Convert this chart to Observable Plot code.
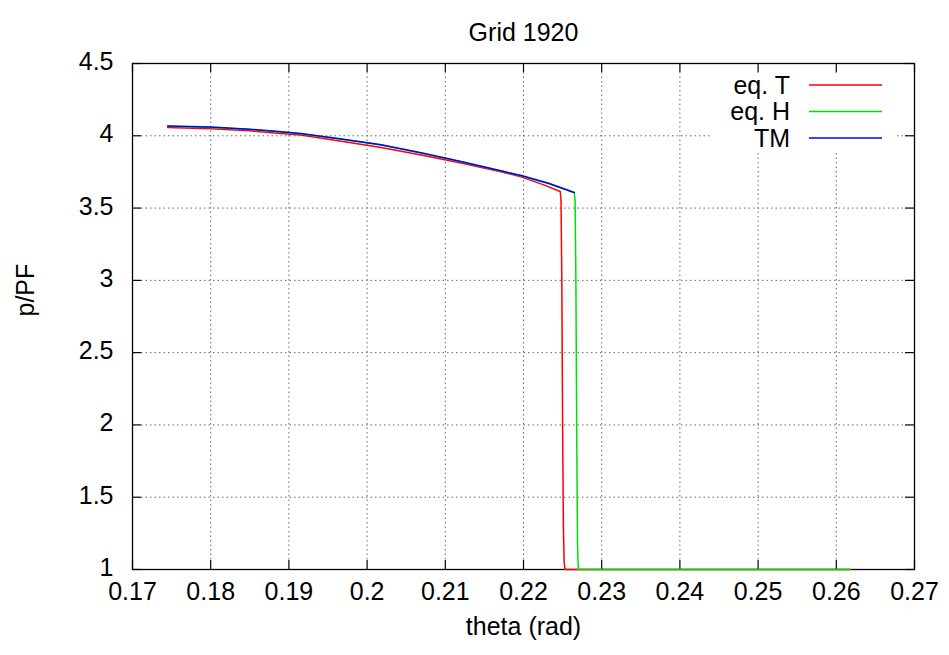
<!DOCTYPE html>
<html><head><meta charset="utf-8">
<script src="https://cdn.jsdelivr.net/npm/d3@7"></script>
<script src="https://cdn.jsdelivr.net/npm/@observablehq/plot@0.6"></script>
<style>body{margin:0;background:#fff;}</style>
</head><body><div id="chart"></div>
<script>
const title = "Grid 1920";
const xLabel = "theta (rad)";
const yLabel = "p/PF";
const xTicks = [0.17,0.18,0.19,0.20,0.21,0.22,0.23,0.24,0.25,0.26,0.27];
const xTickLabels = ["0.17","0.18","0.19","0.2","0.21","0.22","0.23","0.24","0.25","0.26","0.27"];
const yTicks = [1,1.5,2,2.5,3,3.5,4,4.5];
const yTickLabels = ["1","1.5","2","2.5","3","3.5","4","4.5"];
const seriesNames = ["eq. T","eq. H","TM"];
const seriesColors = ["#ff0000","#00e000","#0000ff"];

const eqT_theta = [0.1745,0.18,0.185,0.189,0.1915,0.1965,0.2018,0.2069,0.212,0.2171,0.2197,0.2225,0.2247,0.2248,0.2249,0.2250,0.2251,0.2252,0.2253,0.2618];
const eqT_p     = [4.058,4.049,4.034,4.016,4.005,3.964,3.919,3.867,3.811,3.751,3.716,3.662,3.615,3.55,3.0,2.0,1.3,1.05,1.0,1.0];
const eqH_theta = [0.1745,0.18,0.185,0.189,0.1915,0.1965,0.2018,0.2069,0.212,0.2171,0.2197,0.2232,0.2265,0.2266,0.2267,0.2268,0.2269,0.2270,0.2618];
const eqH_p     = [4.066,4.058,4.044,4.026,4.014,3.977,3.936,3.880,3.820,3.756,3.723,3.670,3.606,3.55,3.0,2.0,1.2,1.0,1.0];
const tm_theta  = [0.1745,0.18,0.185,0.189,0.1915,0.1965,0.2018,0.2069,0.212,0.2171,0.2197,0.2232,0.2265];
const tm_p      = [4.068,4.060,4.046,4.028,4.016,3.979,3.938,3.882,3.822,3.758,3.725,3.672,3.608];

const W = 949, H = 655, mL = 132, mR = 35, mT = 63, mB = 86;
const innerW = W - mL - mR, innerH = H - mT - mB;
const FONT = "'Liberation Sans', Arial, Helvetica, sans-serif";
const FS = 25;
const tick = 9;

const toRows = (xs, ys) => xs.map((x, i) => ({x, y: ys[i]}));
const rowsT = toRows(eqT_theta, eqT_p);
const rowsH = toRows(eqH_theta, eqH_p);
const rowsM = toRows(tm_theta, tm_p);

const plot = Plot.plot({
  width: W, height: H,
  marginLeft: mL, marginRight: mR, marginTop: mT, marginBottom: mB,
  x: {domain: [0.17, 0.27], axis: null},
  y: {domain: [1, 4.5], axis: null},
  style: {fontFamily: FONT, fontSize: FS + "px", background: "#fff", color: "#000"},
  marks: [
    Plot.ruleX(xTicks.slice(1, -1), {x: d => d, stroke: "#666", strokeWidth: 1, strokeDasharray: "1.5,3", insetTop: tick, insetBottom: tick}),
    Plot.ruleY(yTicks.slice(1, -1), {y: d => d, stroke: "#666", strokeWidth: 1, strokeDasharray: "1.5,3", insetLeft: tick, insetRight: tick}),
    Plot.ruleX(xTicks, {x: d => d, stroke: "#000", strokeWidth: 1.2, insetTop: innerH - tick}),
    Plot.ruleX(xTicks, {x: d => d, stroke: "#000", strokeWidth: 1.2, insetBottom: innerH - tick}),
    Plot.ruleY(yTicks, {y: d => d, stroke: "#000", strokeWidth: 1.2, insetRight: innerW - tick}),
    Plot.ruleY(yTicks, {y: d => d, stroke: "#000", strokeWidth: 1.2, insetLeft: innerW - tick}),
    Plot.frame({stroke: "#000", strokeWidth: 1.3}),
    Plot.text(xTicks, {x: d => d, frameAnchor: "bottom", dy: 30, text: (d, i) => xTickLabels[i], fill: "#000"}),
    Plot.text(yTicks, {y: d => d, frameAnchor: "left", dx: -19, dy: -1.5, textAnchor: "end", text: (d, i) => yTickLabels[i], fill: "#000"}),
    Plot.line(rowsT, {x: "x", y: "y", stroke: seriesColors[0], strokeWidth: 1.5}),
    Plot.line(rowsH, {x: "x", y: "y", stroke: seriesColors[1], strokeWidth: 1.5}),
    Plot.line(rowsM, {x: "x", y: "y", stroke: seriesColors[2], strokeWidth: 1.5}),
    Plot.text([title], {frameAnchor: "top", dy: -40, fill: "#000"}),
    Plot.text([xLabel], {frameAnchor: "bottom", dy: 65, fill: "#000"}),
    Plot.text([yLabel], {frameAnchor: "left", dx: -107, rotate: -90, fill: "#000"})
  ]
});

// legend inside the frame, top-right (gnuplot style)
const svg = d3.select(plot);
const lg = svg.append("g").attr("font-family", FONT).attr("font-size", FS);
lg.append("rect")
  .attr("x", mL + innerW - 202).attr("y", mT + tick + 1)
  .attr("width", 185).attr("height", 150 - mT - tick - 1)
  .attr("fill", "#fff");
seriesNames.forEach((name, i) => {
  const cy = mT + 22 + i * 26.5;
  lg.append("text").attr("x", mL + innerW - 124).attr("y", cy).attr("dy", "0.35em")
    .attr("text-anchor", "end").attr("fill", "#000").text(name);
  lg.append("line").attr("x1", mL + innerW - 105).attr("x2", mL + innerW - 32)
    .attr("y1", cy).attr("y2", cy).attr("stroke", seriesColors[i]).attr("stroke-width", 1.5);
});

document.getElementById("chart").appendChild(plot);
</script>
</body></html>
